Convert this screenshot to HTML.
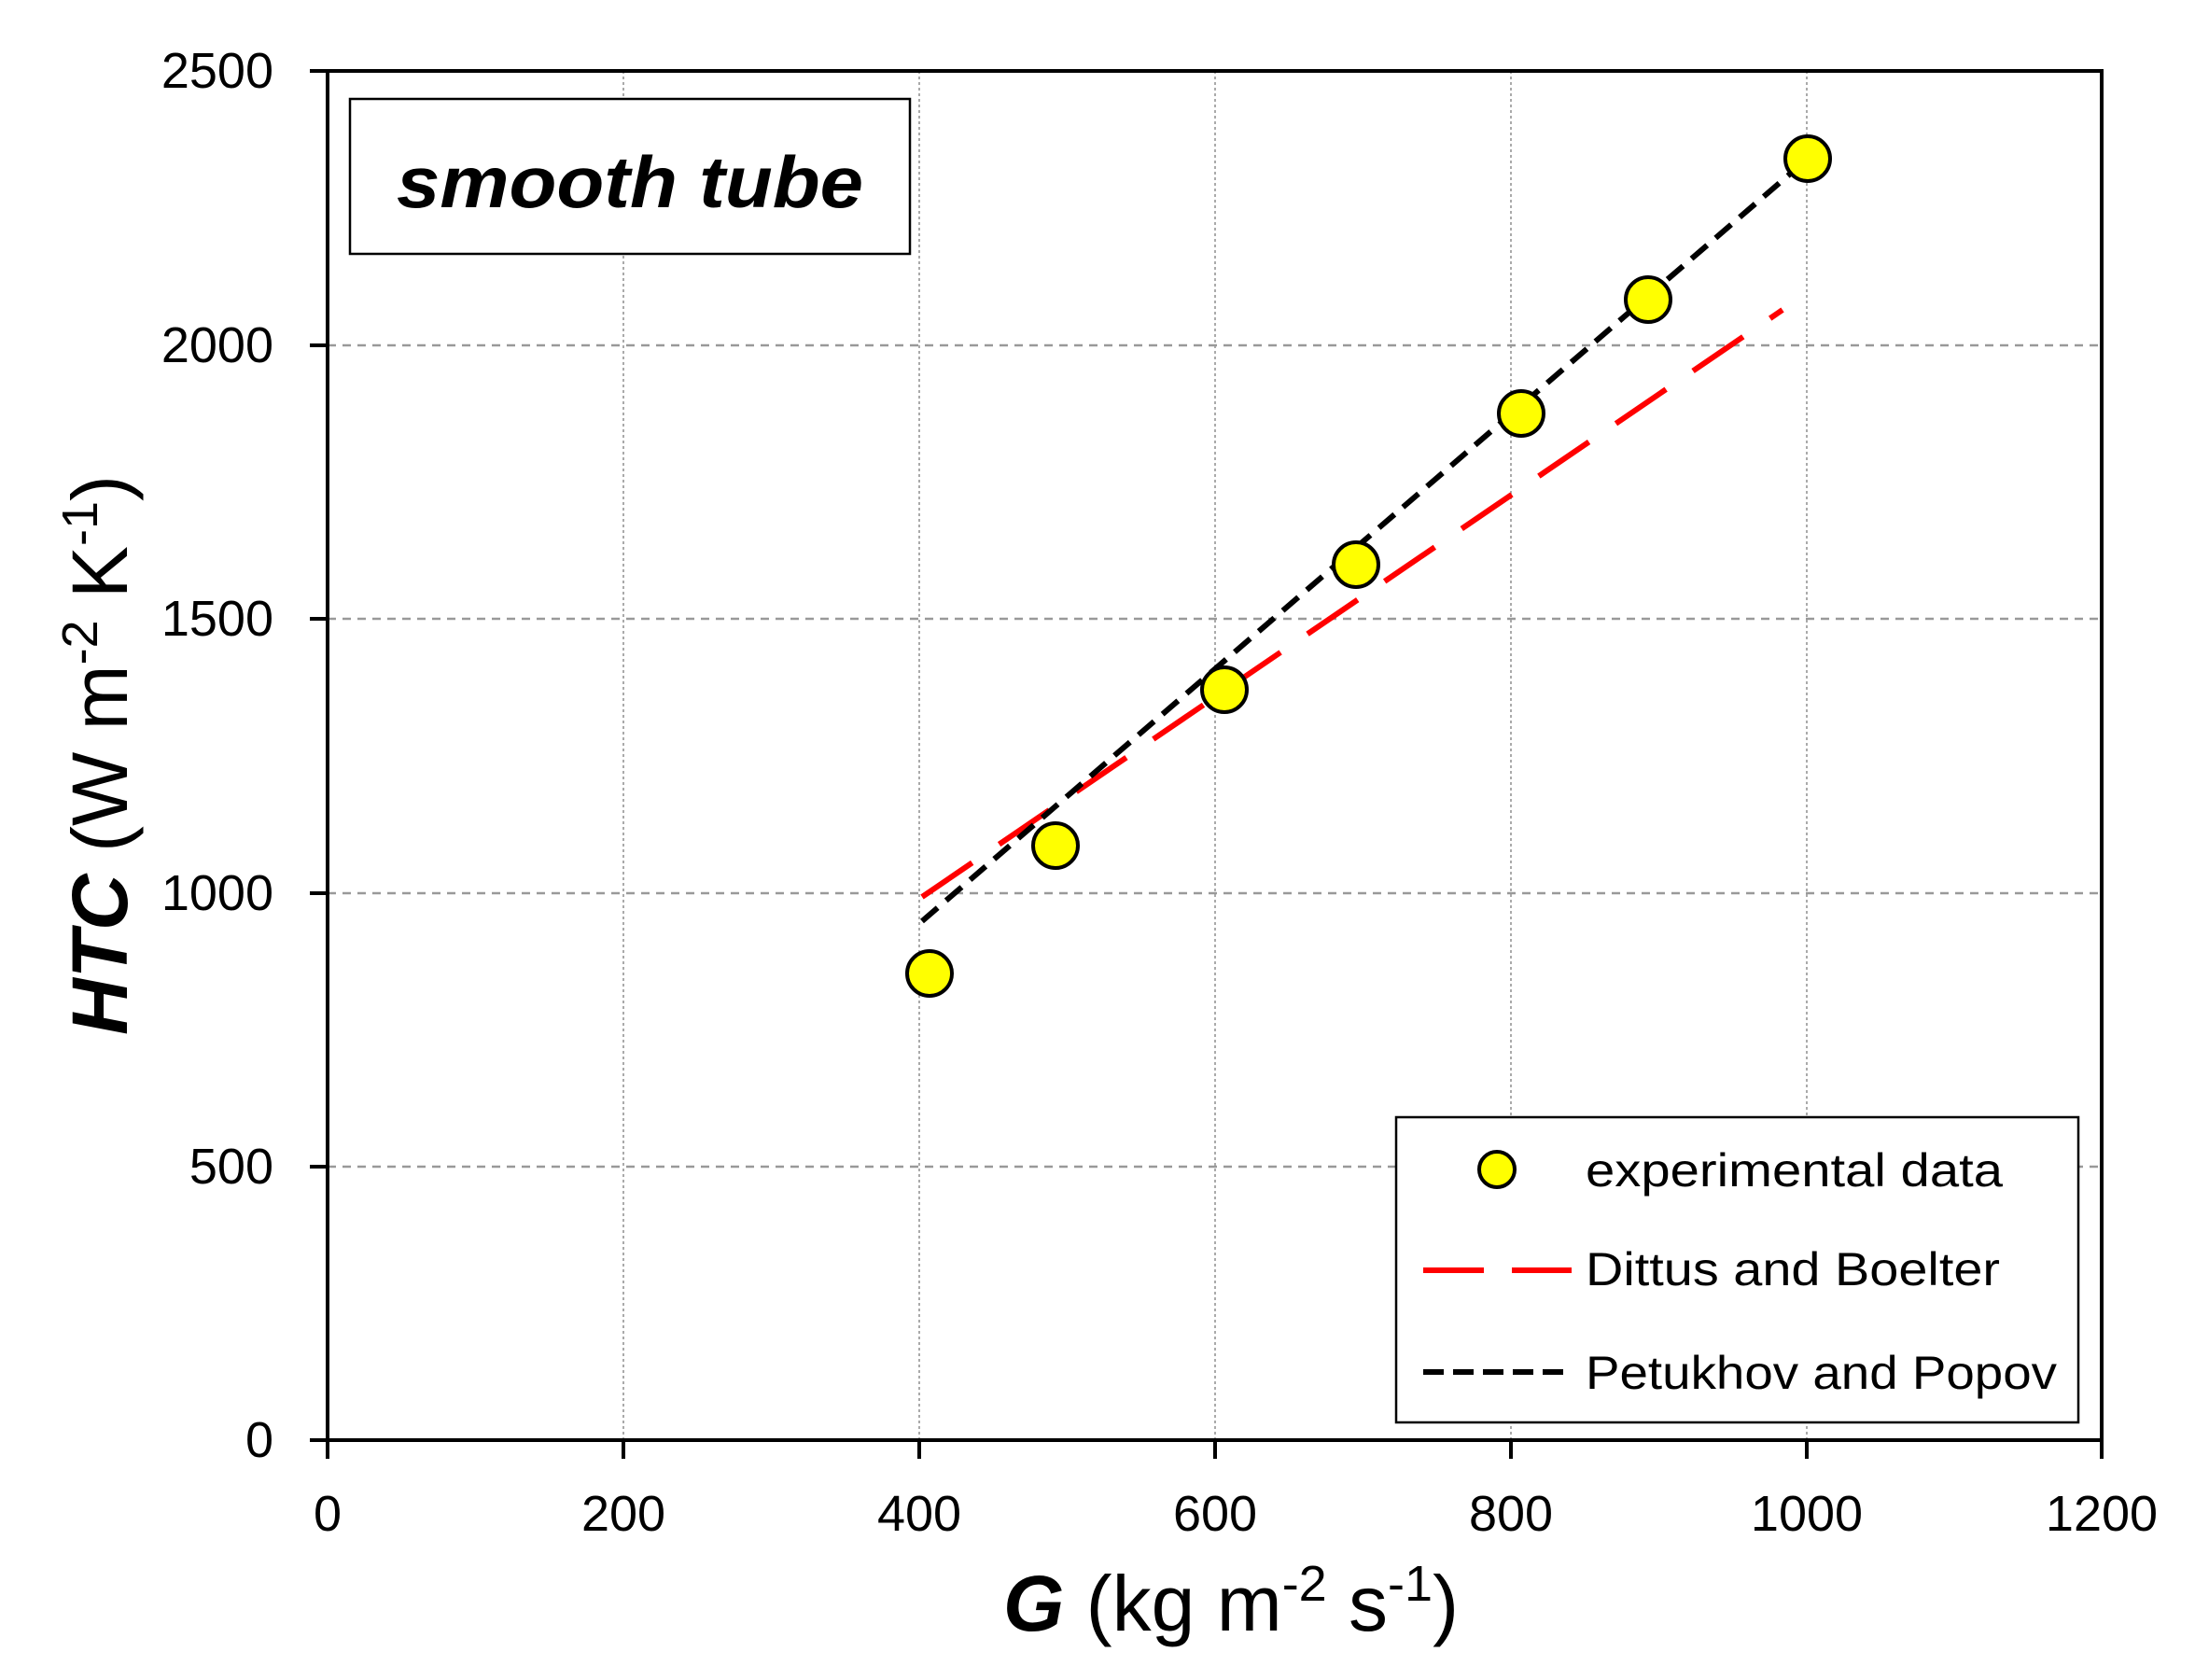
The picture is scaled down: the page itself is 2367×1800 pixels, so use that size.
<!DOCTYPE html>
<html><head><meta charset="utf-8"><style>
html,body{margin:0;padding:0;background:#fff;}
svg{display:block;}
text{font-family:"Liberation Sans",sans-serif;fill:#000;}
</style></head><body>
<svg width="2367" height="1800" viewBox="0 0 2367 1800" xmlns="http://www.w3.org/2000/svg">
<rect width="2367" height="1800" fill="#fff"/>
<!-- vertical grid -->
<g stroke="#aaa" stroke-width="2" stroke-dasharray="3,3">
<line x1="668" y1="76" x2="668" y2="1543"/>
<line x1="985" y1="76" x2="985" y2="1543"/>
<line x1="1302" y1="76" x2="1302" y2="1543"/>
<line x1="1619" y1="76" x2="1619" y2="1543"/>
<line x1="1936" y1="76" x2="1936" y2="1543"/>
</g>
<!-- horizontal grid -->
<g stroke="#999" stroke-width="2.5" stroke-dasharray="9,7">
<line x1="351" y1="370" x2="2252" y2="370"/>
<line x1="351" y1="663" x2="2252" y2="663"/>
<line x1="351" y1="957" x2="2252" y2="957"/>
<line x1="351" y1="1250" x2="2252" y2="1250"/>
</g>
<!-- axes frame -->
<rect x="351" y="76" width="1901" height="1467" fill="none" stroke="#000" stroke-width="4"/>
<g stroke="#000" stroke-width="4">
<line x1="332" y1="76" x2="351" y2="76"/><line x1="332" y1="370" x2="351" y2="370"/>
<line x1="332" y1="663" x2="351" y2="663"/><line x1="332" y1="957" x2="351" y2="957"/>
<line x1="332" y1="1250" x2="351" y2="1250"/><line x1="332" y1="1543" x2="351" y2="1543"/>
<line x1="351" y1="1543" x2="351" y2="1563"/><line x1="668" y1="1543" x2="668" y2="1563"/>
<line x1="985" y1="1543" x2="985" y2="1563"/><line x1="1302" y1="1543" x2="1302" y2="1563"/>
<line x1="1619" y1="1543" x2="1619" y2="1563"/><line x1="1936" y1="1543" x2="1936" y2="1563"/>
<line x1="2252" y1="1543" x2="2252" y2="1563"/>
</g>
<!-- y tick labels -->
<g font-size="54" text-anchor="end">
<text x="293" y="94">2500</text><text x="293" y="388">2000</text>
<text x="293" y="681">1500</text><text x="293" y="975">1000</text>
<text x="293" y="1268">500</text><text x="293" y="1561">0</text>
</g>
<!-- x tick labels -->
<g font-size="54" text-anchor="middle">
<text x="351" y="1640">0</text><text x="668" y="1640">200</text>
<text x="985" y="1640">400</text><text x="1302" y="1640">600</text>
<text x="1619" y="1640">800</text><text x="1936" y="1640">1000</text>
<text x="2252" y="1640">1200</text>
</g>
<!-- axis titles -->
<text x="1075" y="1747" font-size="84"><tspan font-weight="bold" font-style="italic">G</tspan> (kg m<tspan font-size="54" dy="-32">-2</tspan><tspan dy="32"> s</tspan><tspan font-size="54" dy="-32">-1</tspan><tspan dy="32">)</tspan></text>
<text transform="translate(136,809) rotate(-90)" font-size="84" text-anchor="middle"><tspan font-weight="bold" font-style="italic">HTC</tspan> (W m<tspan font-size="54" dy="-32">-2</tspan><tspan dy="32"> K</tspan><tspan font-size="54" dy="-32">-1</tspan><tspan dy="32">)</tspan></text>
<!-- smooth tube box -->
<rect x="375" y="106" width="600" height="166" fill="#fff" stroke="#000" stroke-width="2.5"/>
<text x="425" y="222" font-size="78" font-weight="bold" font-style="italic" textLength="500" lengthAdjust="spacingAndGlyphs">smooth tube</text>
<!-- lines -->
<line x1="988" y1="961" x2="1910" y2="332" stroke="#f00" stroke-width="6" stroke-dasharray="65,35"/>
<line x1="988" y1="987" x2="1937" y2="170" stroke="#000" stroke-width="6" stroke-dasharray="22,12"/>
<!-- markers -->
<g fill="#ff0" stroke="#000" stroke-width="4">
<circle cx="996" cy="1043" r="24"/>
<circle cx="1131" cy="906" r="24"/>
<circle cx="1312" cy="739" r="24"/>
<circle cx="1453" cy="605" r="24"/>
<circle cx="1630" cy="443" r="24"/>
<circle cx="1766" cy="321" r="24"/>
<circle cx="1937" cy="170" r="24"/>
</g>
<!-- legend -->
<rect x="1496" y="1197" width="731" height="327" fill="#fff" stroke="#000" stroke-width="2.5"/>
<circle cx="1604" cy="1253" r="19" fill="#ff0" stroke="#000" stroke-width="4"/>
<line x1="1525" y1="1361" x2="1684" y2="1361" stroke="#f00" stroke-width="6" stroke-dasharray="65,30"/>
<line x1="1525" y1="1470" x2="1684" y2="1470" stroke="#000" stroke-width="6" stroke-dasharray="22,10"/>
<g font-size="50">
<text x="1699" y="1271" textLength="447" lengthAdjust="spacingAndGlyphs">experimental data</text>
<text x="1699" y="1377" textLength="444" lengthAdjust="spacingAndGlyphs">Dittus and Boelter</text>
<text x="1699" y="1488" textLength="505" lengthAdjust="spacingAndGlyphs">Petukhov and Popov</text>
</g>
</svg>
</body></html>
